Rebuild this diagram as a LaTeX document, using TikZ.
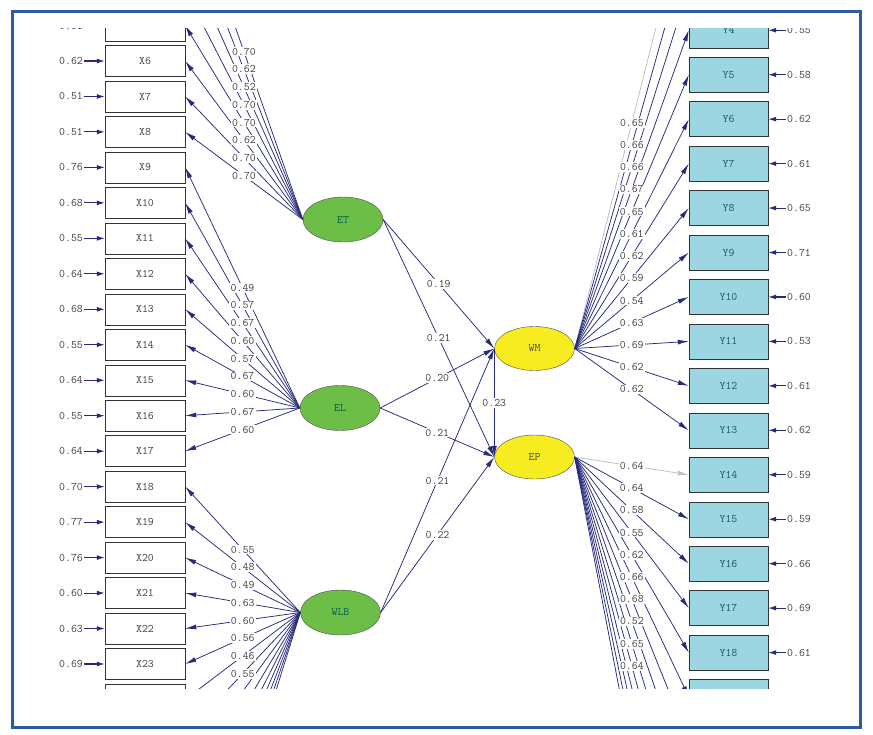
\documentclass[tikz,border=0pt]{standalone}
\usepackage{fontspec}
\usetikzlibrary{arrows.meta,shapes.geometric}

\definecolor{pathblue}{RGB}{38,42,122}
\definecolor{latgreen}{RGB}{108,190,70}
\definecolor{latyellow}{RGB}{246,236,32}
\definecolor{obscyan}{RGB}{156,214,226}
\definecolor{framblue}{RGB}{46,92,162}
\definecolor{greentext}{RGB}{0,95,75}
\definecolor{cyantext}{RGB}{20,90,100}

\newcommand{\lisfont}{\fontsize{11.5}{13}\selectfont\ttfamily}

\tikzset{
  exo/.style={ellipse, draw=black!70, fill=latgreen, text=greentext,
    minimum width=80pt, minimum height=45pt, inner sep=0pt},
  endo/.style={ellipse, draw=black!70, fill=latyellow, text=black!70,
    minimum width=80pt, minimum height=44pt, inner sep=0pt},
  xbox/.style={draw=black!80, fill=white, text=black!75,
    minimum width=80pt, minimum height=31pt, inner sep=0pt},
  ybox/.style={draw=black!80, fill=obscyan, text=cyantext,
    minimum width=79pt, minimum height=35pt, inner sep=0pt},
  load/.style={draw=pathblue, line width=0.75pt, -{Latex[length=11pt,width=5pt]}},
  faint/.style={load, draw=black!25},
  lbl/.style={fill=white, text=black!75, inner sep=1.2pt},
  errarr/.style={draw=pathblue, line width=1.1pt, -{Latex[length=8pt,width=5pt]}},
  errlbl/.style={text=black!75, inner sep=1pt}
}

\begin{document}
\begin{tikzpicture}[x=1pt, y=-1pt, every node/.style={font=\lisfont}]
\useasboundingbox (0,0) rectangle (873,734);

\begin{scope}
\clip (14,28) rectangle (858,688);

% latent variables
\node[exo] (ET) at (343,219.5) {ET};
\node[exo] (EL) at (340,408) {EL};
\node[exo] (WLB) at (340.5,612.5) {WLB};
\node[endo] (WM) at (534.5,348.5) {WM};
\node[endo] (EP) at (534.5,457) {EP};

% indicators, left column
\foreach \i in {5,...,24}
  \node[xbox] (X\i) at (145,{61+(\i-6)*35.47}) {X\i};
\foreach \i in {1,...,4}
  \coordinate (X\i) at (185,{61+(\i-6)*35.47});
\foreach \i in {25,...,32}
  \coordinate (X\i) at (185,{61+(\i-6)*35.47});

% indicators, right column
\foreach \j in {4,...,19}
  \node[ybox] (Y\j) at (728.5,{252.5+(\j-9)*44.45}) {Y\j};
\foreach \j in {1,...,3}
  \coordinate (Y\j) at (689,{252.5+(\j-9)*44.45});
\foreach \j in {20,...,27}
  \coordinate (Y\j) at (689,{252.5+(\j-9)*44.45});

% loadings ET
\foreach \i in {1,...,4} \draw[load] (ET.west) -- (X\i);
\foreach \i in {5,...,8} \draw[load] (ET.west) -- (X\i.east);
% loadings EL
\foreach \i in {9,...,17} \draw[load] (EL.west) -- (X\i.east);
% loadings WLB
\foreach \i in {18,...,24} \draw[load] (WLB.west) -- (X\i.east);
\foreach \i in {25,...,32} \draw[load] (WLB.west) -- (X\i);
% loadings WM
\draw[faint] (WM.east) -- (Y1);
\foreach \j in {2,3} \draw[load] (WM.east) -- (Y\j);
\foreach \j in {4,...,13} \draw[load] (WM.east) -- (Y\j.west);
% loadings EP
\draw[faint] (EP.east) -- (Y14.west);
\foreach \j in {15,...,19} \draw[load] (EP.east) -- (Y\j.west);
\foreach \j in {20,...,27} \draw[load] (EP.east) -- (Y\j);

% structural paths
\draw[load] (ET.east) -- (WM.west);
\draw[load] (ET.east) -- (EP.west);
\draw[load] (EL.east) -- (WM.west);
\draw[load] (EL.east) -- (EP.west);
\draw[load] (WLB.east) -- (WM.west);
\draw[load] (WLB.east) -- (EP.west);
\draw[load] (WM.west) -- (EP.west);

% estimates on the paths
\foreach \i/\v in {1/0.70,2/0.62,3/0.52,4/0.70}
  \path (ET.west) -- node[lbl] {\v} (X\i);
\foreach \i/\v in {5/0.70,6/0.62,7/0.70,8/0.70}
  \path (ET.west) -- node[lbl] {\v} (X\i.east);
\foreach \i/\v in {9/0.49,10/0.57,11/0.67,12/0.60,13/0.57,14/0.67,15/0.60,16/0.67,17/0.60}
  \path (EL.west) -- node[lbl] {\v} (X\i.east);
\foreach \i/\v in {18/0.55,19/0.48,20/0.49,21/0.63,22/0.60,23/0.56,24/0.46}
  \path (WLB.west) -- node[lbl] {\v} (X\i.east);
\path (WLB.west) -- node[lbl] {0.55} (X25);
\foreach \j/\v in {1/0.65,2/0.66,3/0.66}
  \path (WM.east) -- node[lbl] {\v} (Y\j);
\foreach \j/\v in {4/0.67,5/0.65,6/0.61,7/0.62,8/0.59,9/0.54,10/0.63,11/0.69,12/0.62,13/0.62}
  \path (WM.east) -- node[lbl] {\v} (Y\j.west);
\foreach \j/\v in {14/0.64,15/0.64,16/0.58,17/0.55,18/0.62,19/0.66}
  \path (EP.east) -- node[lbl] {\v} (Y\j.west);
\foreach \j/\v in {20/0.68,21/0.52,22/0.65,23/0.64}
  \path (EP.east) -- node[lbl] {\v} (Y\j);
\path (ET.east) -- node[lbl] {0.19} (WM.west);
\path (ET.east) -- node[lbl] {0.21} (EP.west);
\path (EL.east) -- node[lbl] {0.20} (WM.west);
\path (EL.east) -- node[lbl] {0.21} (EP.west);
\path (WLB.east) -- node[lbl] {0.21} (WM.west);
\path (WLB.east) -- node[lbl] {0.22} (EP.west);
\path (WM.west) -- node[lbl] {0.23} (EP.west);

% error variances
\foreach \i/\v in {5/0.51,6/0.62,7/0.51,8/0.51,9/0.76,10/0.68,11/0.55,12/0.64,13/0.68,14/0.55,15/0.64,16/0.55,17/0.64,18/0.70,19/0.77,20/0.76,21/0.60,22/0.63,23/0.69}{
  \node[errlbl] (eX\i) at (71,{61+(\i-6)*35.47}) {\v};
  \draw[errarr] (eX\i) -- (X\i.west);
}
\foreach \j/\v in {4/0.55,5/0.58,6/0.62,7/0.61,8/0.65,9/0.71,10/0.60,11/0.53,12/0.61,13/0.62,14/0.59,15/0.59,16/0.66,17/0.69,18/0.61}{
  \node[errlbl] (eY\j) at (799,{252.5+(\j-9)*44.45}) {\v};
  \draw[errarr] (eY\j) -- (Y\j.east);
}
\end{scope}

% frame
\draw[framblue, line width=3pt] (12,11) rectangle (860,727);

\end{tikzpicture}
\end{document}
